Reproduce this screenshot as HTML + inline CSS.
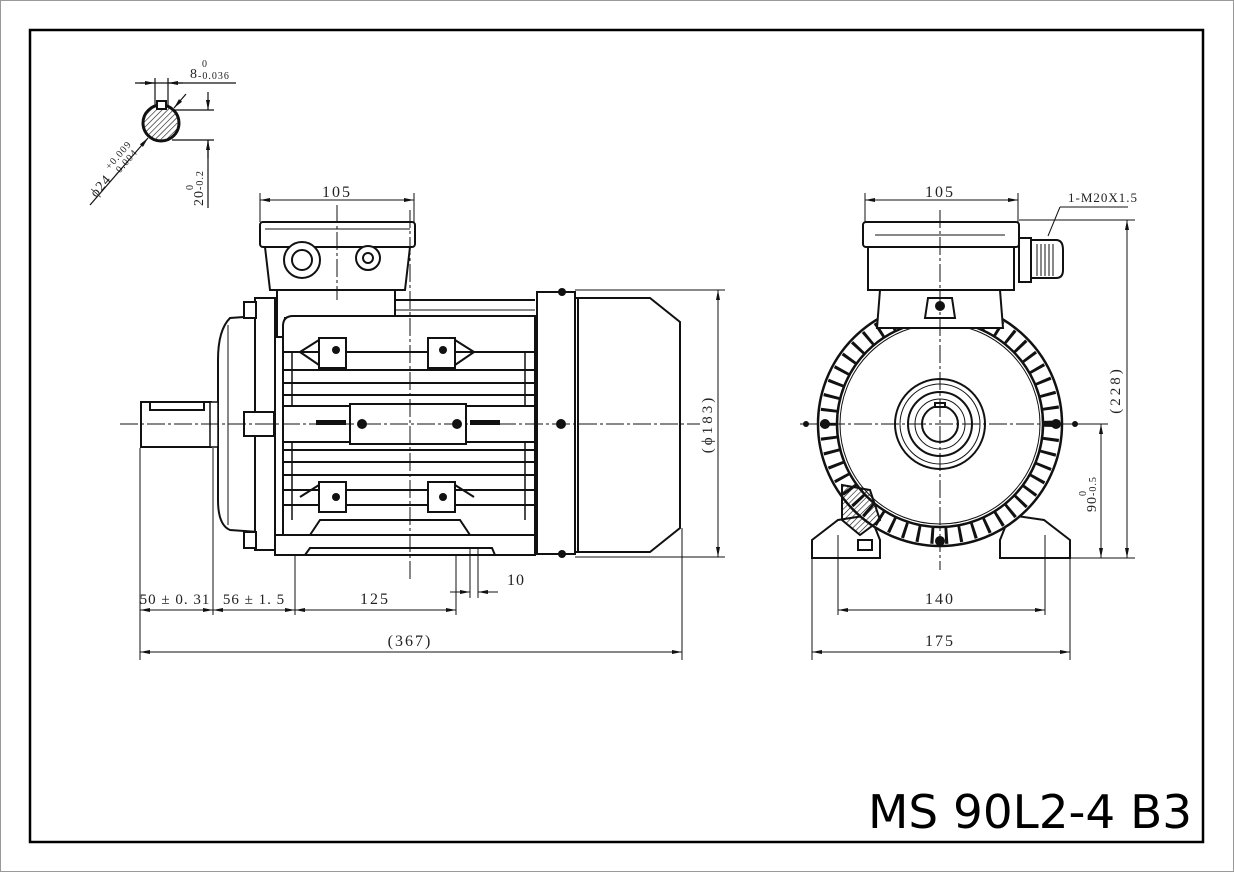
<!DOCTYPE html>
<html><head><meta charset="utf-8"><style>
html,body{margin:0;padding:0;background:#fff}
svg{display:block}
text{font-family:"Liberation Serif",serif;fill:#222}
</style></head><body>
<svg width="1234" height="872" viewBox="0 0 1234 872" xmlns="http://www.w3.org/2000/svg">
<defs>
<marker id="a" viewBox="0 0 10 4" refX="10" refY="2" markerWidth="12" markerHeight="4" markerUnits="userSpaceOnUse" orient="auto-start-reverse"><path d="M0,0L10,2L0,4z" fill="#111"/></marker>
<pattern id="h" width="4" height="4" patternUnits="userSpaceOnUse" patternTransform="rotate(45)"><line x1="0" y1="0" x2="0" y2="4" stroke="#111" stroke-width="1.2"/></pattern>
</defs>
<rect x="0.5" y="0.5" width="1233" height="871" fill="#fff" stroke="#999"/>
<rect x="30" y="30" width="1173" height="812" fill="none" stroke="#000" stroke-width="2.5"/>
<text x="868" y="828" textLength="324" lengthAdjust="spacingAndGlyphs" style="font-family:'DejaVu Sans Condensed','DejaVu Sans',sans-serif;font-size:46px;fill:#000">MS 90L2-4 B3</text>

<!-- shaft detail -->
<g stroke="#111" stroke-width="1.2" fill="none">
<circle cx="161" cy="123" r="18" fill="url(#h)" stroke-width="3"/>
<rect x="157" y="101" width="9" height="8" fill="#fff" stroke-width="2"/>
<line x1="135" y1="83" x2="236" y2="83"/>
<line x1="155" y1="78" x2="155" y2="105"/><line x1="168" y1="78" x2="168" y2="105"/>
<line x1="140" y1="83" x2="155" y2="83" marker-end="url(#a)"/><line x1="183" y1="83" x2="168" y2="83" marker-end="url(#a)"/>
<line x1="172" y1="110" x2="214" y2="110"/><line x1="172" y1="140" x2="214" y2="140"/>
<line x1="208" y1="92" x2="208" y2="110" marker-end="url(#a)"/><line x1="208" y1="158" x2="208" y2="140" marker-end="url(#a)"/><line x1="208" y1="140" x2="208" y2="208"/>
<line x1="90" y1="205" x2="148" y2="138" marker-end="url(#a)"/>
<line x1="186" y1="94" x2="174" y2="108" marker-end="url(#a)"/>
</g>
<text x="190" y="78" style="font-size:14px;letter-spacing:1px">8</text>
<text x="202" y="67" style="font-size:10px">0</text>
<text x="198" y="79" style="font-size:10px;letter-spacing:1px">-0.036</text>
<g transform="translate(96,198) rotate(-49)"><text style="font-size:14px;letter-spacing:1px">ϕ24</text><text x="30" y="-8" style="font-size:10px;letter-spacing:1px">+0.009</text><text x="30" y="2" style="font-size:10px;letter-spacing:1px">-0.004</text></g>
<g transform="translate(203,206) rotate(-90)"><text style="font-size:14px;letter-spacing:1px">20</text><text x="16" y="-10" style="font-size:10px">0</text><text x="16" y="0" style="font-size:10px;letter-spacing:1px">-0.2</text></g>

<!-- SIDE VIEW -->
<g stroke="#111" stroke-width="2" fill="#fff">
<rect x="260" y="222" width="155" height="25" rx="3"/>
<line x1="265" y1="229" x2="410" y2="229" stroke-width="1"/>
<path d="M265,247 L410,247 L405,290 L270,290 Z"/>
<path d="M277,290 L395,290 L395,318 L285,318 L283,337 L277,337 Z"/>
<circle cx="302" cy="260" r="18"/><circle cx="302" cy="260" r="10"/>
<circle cx="368" cy="258" r="12"/><circle cx="368" cy="258" r="5"/>
<path d="M258,316 L230,318 Q218,330 218,360 L218,500 Q218,525 230,530 L258,532 Z"/>
<line x1="228" y1="325" x2="228" y2="525" stroke-width="1"/>
<rect x="255" y="298" width="20" height="252"/>
<rect x="244" y="302" width="12" height="16"/><rect x="244" y="532" width="12" height="16"/>
<rect x="244" y="412" width="30" height="24"/>
<rect x="141" y="402" width="70" height="45"/>
<rect x="150" y="402" width="54" height="8"/>
<rect x="210" y="402" width="8" height="45" stroke-width="1.5"/>
<path d="M283,326 Q283,316 293,316 L535,316 L535,555 L283,555 Z"/>
<line x1="395" y1="300" x2="535" y2="300"/>
<line x1="395" y1="310" x2="535" y2="310" stroke-width="1"/>
</g>
<g stroke="#111" stroke-width="2">
<line x1="283" y1="352" x2="535" y2="352"/><line x1="283" y1="370" x2="535" y2="370"/>
<line x1="283" y1="383" x2="535" y2="383"/><line x1="283" y1="395" x2="535" y2="395"/>
<line x1="283" y1="450" x2="535" y2="450"/><line x1="283" y1="462" x2="535" y2="462"/>
<line x1="283" y1="475" x2="535" y2="475"/><line x1="283" y1="490" x2="535" y2="490"/>
<line x1="283" y1="505" x2="535" y2="505"/>
<line x1="292" y1="352" x2="292" y2="520" stroke-width="1.5"/><line x1="525" y1="352" x2="525" y2="520" stroke-width="1.5"/>
</g>
<g stroke="#111" stroke-width="2" fill="#fff">
<rect x="283" y="406" width="252" height="36"/>
<rect x="350" y="404" width="116" height="40"/>
<rect x="319" y="338" width="27" height="30"/><rect x="428" y="338" width="27" height="30"/>
<rect x="319" y="482" width="27" height="30"/><rect x="428" y="482" width="27" height="30"/>
<path d="M300,352 L319,340 M300,352 L319,365 M474,352 L455,340 M474,352 L455,365 M300,497 L319,485 M474,497 L455,485" fill="none"/>
<path d="M275,535 L535,535 L535,555 L495,555 L492,548 L310,548 L305,555 L275,555 Z"/>
<path d="M310,535 L320,520 L460,520 L470,535" fill="none"/>
<rect x="537" y="292" width="38" height="262"/>
<path d="M575,298 L650,298 L680,322 L680,528 L650,552 L575,552 Z"/>
<line x1="578" y1="298" x2="578" y2="552"/>
</g>
<g fill="#111">
<circle cx="336" cy="350" r="4"/><circle cx="443" cy="350" r="4"/><circle cx="336" cy="497" r="4"/><circle cx="443" cy="497" r="4"/>
<circle cx="362" cy="424" r="5"/><circle cx="457" cy="424" r="5"/><circle cx="561" cy="424" r="5"/>
<circle cx="562" cy="292" r="4"/><circle cx="562" cy="554" r="4"/>
<rect x="316" y="420" width="30" height="5"/><rect x="470" y="420" width="30" height="5"/>
</g>
<g stroke="#111" stroke-width="1" stroke-dasharray="18,3,3,3" fill="none">
<line x1="120" y1="424" x2="700" y2="424"/>
<line x1="410" y1="210" x2="410" y2="580"/>
<line x1="337" y1="205" x2="337" y2="300"/>
</g>
<g stroke="#111" stroke-width="1" fill="none">
<line x1="260" y1="193" x2="260" y2="222"/><line x1="414" y1="193" x2="414" y2="222"/>
<line x1="260" y1="200" x2="414" y2="200" marker-start="url(#a)" marker-end="url(#a)"/>
<line x1="575" y1="290" x2="725" y2="290"/><line x1="575" y1="557" x2="725" y2="557"/>
<line x1="718" y1="290" x2="718" y2="557" marker-start="url(#a)" marker-end="url(#a)"/>
<line x1="140" y1="448" x2="140" y2="660"/><line x1="213" y1="448" x2="213" y2="615"/>
<line x1="295" y1="555" x2="295" y2="615"/><line x1="456" y1="555" x2="456" y2="615"/>
<line x1="682" y1="528" x2="682" y2="660"/>
<line x1="470" y1="548" x2="470" y2="598"/><line x1="478" y1="548" x2="478" y2="598"/>
<line x1="140" y1="610" x2="213" y2="610" marker-start="url(#a)" marker-end="url(#a)"/>
<line x1="213" y1="610" x2="295" y2="610" marker-start="url(#a)" marker-end="url(#a)"/>
<line x1="295" y1="610" x2="456" y2="610" marker-start="url(#a)" marker-end="url(#a)"/>
<line x1="450" y1="592" x2="470" y2="592" marker-end="url(#a)"/><line x1="498" y1="592" x2="478" y2="592" marker-end="url(#a)"/>
<line x1="140" y1="652" x2="682" y2="652" marker-start="url(#a)" marker-end="url(#a)"/>
</g>
<text x="337" y="197" text-anchor="middle" style="font-size:16px;letter-spacing:2px">105</text>
<text x="175" y="604" text-anchor="middle" style="font-size:15px;letter-spacing:1px">50 ± 0. 31</text>
<text x="254" y="604" text-anchor="middle" style="font-size:15px;letter-spacing:1px">56 ± 1. 5</text>
<text x="375" y="604" text-anchor="middle" style="font-size:16px;letter-spacing:2px">125</text>
<text x="516" y="585" text-anchor="middle" style="font-size:16px;letter-spacing:1px">10</text>
<text x="410" y="646" text-anchor="middle" style="font-size:16px;letter-spacing:2px">(367)</text>
<text transform="translate(712,424) rotate(-90)" text-anchor="middle" style="font-size:15px;letter-spacing:3px">(ϕ183)</text>

<!-- FRONT VIEW -->
<g stroke="#111" stroke-width="2" fill="#fff">
<path d="M812,540 L838,520 L870,515 L880,540 L880,558 L812,558 Z"/>
<path d="M1070,540 L1044,520 L1010,515 L1000,540 L1000,558 L1070,558 Z"/>
<circle cx="940" cy="424" r="122" stroke-width="2.5"/>
</g>
<g stroke="#111" stroke-width="16" stroke-dasharray="3,11" fill="none">
<circle cx="940" cy="424" r="112"/>
</g>
<g stroke="#111" stroke-width="2" fill="#fff">
<circle cx="940" cy="424" r="103" stroke-width="2.5"/>
<circle cx="940" cy="424" r="100" stroke-width="1"/>
<path d="M880,290 L1000,290 L1003,328 L877,328 Z"/>
<rect x="863" y="222" width="156" height="25" rx="3"/>
<line x1="875" y1="235" x2="1005" y2="235" stroke-width="1"/>
<rect x="868" y="247" width="146" height="43"/>
<rect x="1019" y="238" width="12" height="44"/>
<path d="M1031,240 L1056,240 Q1063,240 1063,250 L1063,270 Q1063,278 1056,278 L1031,278 Z"/>
<path d="M928,298 L952,298 L955,318 L925,318 Z"/>
<circle cx="940" cy="424" r="45"/>
<circle cx="940" cy="424" r="40" stroke-width="1"/>
<circle cx="940" cy="424" r="32"/>
<circle cx="940" cy="424" r="25" stroke-width="1"/>
<circle cx="940" cy="424" r="18"/>
<rect x="935" y="403" width="10" height="4"/>
<path d="M842,485 L870,490 L880,520 L860,535 L842,520 Z" fill="url(#h)"/>
<rect x="858" y="540" width="14" height="10"/>
</g>
<g stroke="#111" stroke-width="1">
<line x1="1037" y1="244" x2="1037" y2="276"/><line x1="1041" y1="244" x2="1041" y2="276"/><line x1="1045" y1="244" x2="1045" y2="276"/><line x1="1049" y1="244" x2="1049" y2="276"/><line x1="1053" y1="244" x2="1053" y2="276"/>
</g>
<g fill="#111">
<circle cx="940" cy="306" r="5"/><circle cx="940" cy="541" r="5"/>
<circle cx="825" cy="424" r="5"/><circle cx="1056" cy="424" r="5"/>
<circle cx="806" cy="424" r="3"/><circle cx="1075" cy="424" r="3"/>
</g>
<g stroke="#111" stroke-width="1" stroke-dasharray="18,3,3,3" fill="none">
<line x1="800" y1="424" x2="1090" y2="424"/>
<line x1="940" y1="210" x2="940" y2="570"/>
</g>
<g stroke="#111" stroke-width="1" fill="none">
<line x1="865" y1="193" x2="865" y2="222"/><line x1="1018" y1="193" x2="1018" y2="222"/>
<line x1="865" y1="200" x2="1018" y2="200" marker-start="url(#a)" marker-end="url(#a)"/>
<line x1="1128" y1="207" x2="1060" y2="207"/><line x1="1060" y1="207" x2="1048" y2="236"/>
<line x1="1019" y1="220" x2="1135" y2="220"/><line x1="1070" y1="558" x2="1135" y2="558"/>
<line x1="1127" y1="220" x2="1127" y2="558" marker-start="url(#a)" marker-end="url(#a)"/>
<line x1="1060" y1="424" x2="1108" y2="424"/>
<line x1="1101" y1="424" x2="1101" y2="558" marker-start="url(#a)" marker-end="url(#a)"/>
<line x1="838" y1="535" x2="838" y2="615"/><line x1="1045" y1="535" x2="1045" y2="615"/>
<line x1="812" y1="558" x2="812" y2="660"/><line x1="1070" y1="558" x2="1070" y2="660"/>
<line x1="838" y1="610" x2="1045" y2="610" marker-start="url(#a)" marker-end="url(#a)"/>
<line x1="812" y1="652" x2="1070" y2="652" marker-start="url(#a)" marker-end="url(#a)"/>
</g>
<text x="940" y="197" text-anchor="middle" style="font-size:16px;letter-spacing:2px">105</text>
<text x="1068" y="202" style="font-size:13px;letter-spacing:1px">1-M20X1.5</text>
<text transform="translate(1120,390) rotate(-90)" text-anchor="middle" style="font-size:15px;letter-spacing:3px">(228)</text>
<g transform="translate(1096,512) rotate(-90)"><text style="font-size:14px;letter-spacing:1px">90</text><text x="16" y="-10" style="font-size:10px">0</text><text x="16" y="0" style="font-size:10px;letter-spacing:1px">-0.5</text></g>
<text x="940" y="604" text-anchor="middle" style="font-size:16px;letter-spacing:2px">140</text>
<text x="940" y="646" text-anchor="middle" style="font-size:16px;letter-spacing:2px">175</text>
</svg>
</body></html>
